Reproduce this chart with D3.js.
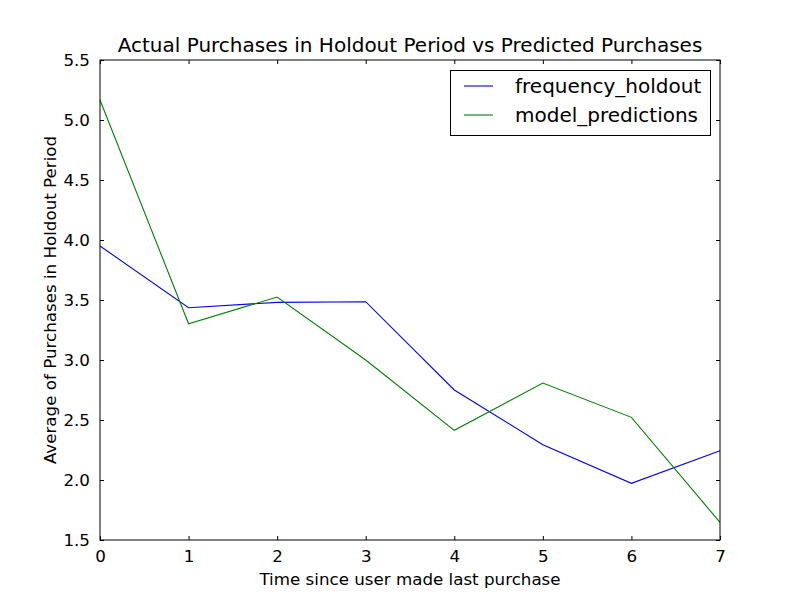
<!DOCTYPE html>
<html><head><meta charset="utf-8">
<script src="https://cdn.jsdelivr.net/npm/d3@7"></script>
<style>body{margin:0;background:#fff}svg{display:block;font-family:"DejaVu Sans",sans-serif}</style>
</head><body><svg id="c" width="800" height="600"></svg>
<script>
const xValues = [0,1,2,3,4,5,6,7];
const frequencyHoldout = [3.95,3.436,3.48,3.486,2.75,2.294,1.972,2.244];
const modelPredictions = [5.167,3.302,3.525,3.0,2.414,2.808,2.522,1.647];
const yTicks = [1.5,2.0,2.5,3.0,3.5,4.0,4.5,5.0,5.5];
const xTicks = [0,1,2,3,4,5,6,7];
const seriesNames = ["frequency_holdout","model_predictions"];
const colors = ["#0000ff","#008000"];

const svg = d3.select("#c");
const L=100,R=720,T=60,B=540;
const x = d3.scaleLinear().domain([0,7]).range([L,R]);
const y = d3.scaleLinear().domain([1.5,5.5]).range([B,T]);

svg.append("rect").attr("width",800).attr("height",600).attr("fill","#fff");

const line = d3.line().x((d,i)=>x(xValues[i])).y(d=>y(d));
[frequencyHoldout, modelPredictions].forEach((s,k)=>{
  svg.append("path").datum(s).attr("d",line).attr("fill","none")
    .attr("stroke",colors[k]).attr("stroke-width",1.1).attr("stroke-linejoin","miter");
});

const fmt = d3.format(".1f");
const ax = (g, axis) => { g.call(axis); g.select(".domain").remove(); g.selectAll("line").attr("stroke","#000"); g.selectAll("text").attr("font-size","16.7px").attr("fill","#000").attr("font-family","DejaVu Sans"); };
svg.append("g").attr("transform",`translate(0,${B})`).call(g=>ax(g,d3.axisBottom(x).tickValues(xTicks).tickFormat(d3.format("d")).tickSizeInner(-4).tickSizeOuter(0).tickPadding(10)));
svg.append("g").attr("transform",`translate(0,${T})`).call(g=>{ax(g,d3.axisTop(x).tickValues(xTicks).tickSizeInner(-4).tickSizeOuter(0)); g.selectAll("text").remove();});
svg.append("g").attr("transform",`translate(${L},0)`).call(g=>ax(g,d3.axisLeft(y).tickValues(yTicks).tickFormat(fmt).tickSizeInner(-4).tickSizeOuter(0).tickPadding(10)));
svg.append("g").attr("transform",`translate(${R},0)`).call(g=>{ax(g,d3.axisRight(y).tickValues(yTicks).tickSizeInner(-4).tickSizeOuter(0)); g.selectAll("text").remove();});

svg.append("rect").attr("x",L).attr("y",T).attr("width",R-L).attr("height",B-T)
  .attr("fill","none").attr("stroke","#000").attr("stroke-width",1);

svg.append("text").attr("x",(L+R)/2).attr("y",52).attr("text-anchor","middle")
  .attr("font-size","20px").text("Actual Purchases in Holdout Period vs Predicted Purchases");
svg.append("text").attr("x",(L+R)/2).attr("y",585).attr("text-anchor","middle")
  .attr("font-size","16.7px").text("Time since user made last purchase");
svg.append("text").attr("transform",`translate(56,${(T+B)/2}) rotate(-90)`).attr("text-anchor","middle")
  .attr("font-size","16.7px").text("Average of Purchases in Holdout Period");

const lg = svg.append("g");
lg.append("rect").attr("x",450.5).attr("y",70.5).attr("width",260).attr("height",65)
  .attr("fill","#fff").attr("stroke","#000").attr("stroke-width",1);
seriesNames.forEach((n,i)=>{
  const yy = 86 + i*29;
  lg.append("line").attr("x1",464).attr("x2",493).attr("y1",yy).attr("y2",yy).attr("stroke",colors[i]).attr("stroke-width",1.1);
  lg.append("text").attr("x",515).attr("y",yy+7).attr("font-size","20px").text(n);
});
</script></body></html>
